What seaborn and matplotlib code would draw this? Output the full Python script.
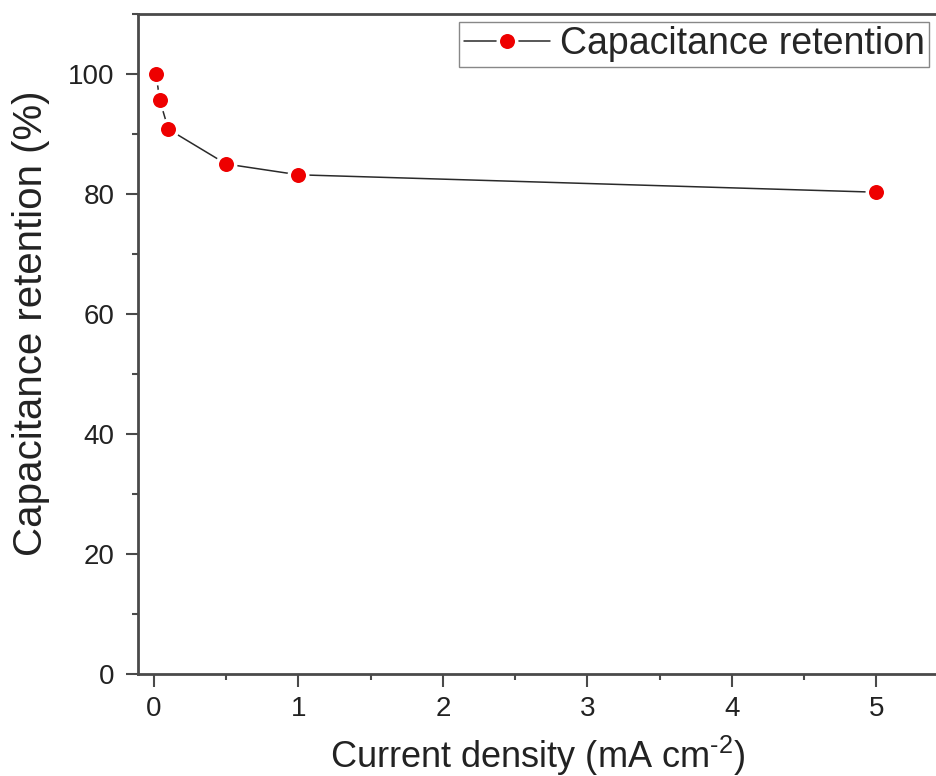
import matplotlib
matplotlib.use("Agg")
import matplotlib.pyplot as plt
import seaborn as sns
import pandas as pd
from matplotlib.ticker import MultipleLocator

current_density = [0.015, 0.04, 0.1, 0.5, 1.0, 5.0]
retention = [100.0, 95.7, 90.8, 85.0, 83.2, 80.3]
series_label = "Capacitance retention"
x_label = r"Current density (mA cm$^{\text{-2}}$)"
y_label = "Capacitance retention (%)"

df = pd.DataFrame({"x": current_density, "y": retention})

sns.set_style("ticks")
plt.rcParams["font.family"] = ["Liberation Sans", "DejaVu Sans"]
plt.rcParams["mathtext.fontset"] = "custom"
plt.rcParams["mathtext.rm"] = "Liberation Sans"
plt.rcParams["mathtext.it"] = "Liberation Sans"
plt.rcParams["mathtext.default"] = "regular"

fig = plt.figure(figsize=(9.37, 7.76), dpi=100)
ax = fig.add_axes([138/937, 1 - 674/776, 1 - 138/937, 660/776])

sns.lineplot(data=df, x="x", y="y", ax=ax, color="#2a2a2a", linewidth=1.1,
             marker="o", markersize=13.3, markerfacecolor="#ee0000",
             markeredgecolor="white", markeredgewidth=2.5, label=series_label)

ax.set_xlim(-0.11, 5.42)
ax.set_ylim(0, 110)
ax.xaxis.set_major_locator(MultipleLocator(1))
ax.xaxis.set_minor_locator(MultipleLocator(0.5))
ax.yaxis.set_major_locator(MultipleLocator(20))
ax.yaxis.set_minor_locator(MultipleLocator(10))

for side in ["left", "bottom", "top"]:
    ax.spines[side].set_color("#4a4a4a")
    ax.spines[side].set_linewidth(2)
ax.spines["right"].set_visible(False)

ax.tick_params(which="major", direction="out", length=9, width=1.5,
               color="#4a4a4a", labelsize=20, labelcolor="#222222")
ax.tick_params(axis="y", which="major", pad=8)
ax.tick_params(axis="x", which="major", pad=7)
ax.tick_params(which="minor", direction="out", length=4.5, width=1.5, color="#4a4a4a")
ax.tick_params(top=False, right=False, which="both")

ax.set_xlabel(x_label, fontsize=26, color="#222222", labelpad=8)
ax.set_ylabel(y_label, fontsize=29, color="#222222")
ax.yaxis.set_label_coords(-0.110, 0.532)

leg = ax.legend(loc="upper right", fontsize=27, frameon=True, fancybox=False,
                handlelength=2.3, handletextpad=0.27, borderpad=0.12,
                borderaxespad=0.2, framealpha=1)
leg.get_frame().set_edgecolor("#888888")
leg.get_frame().set_linewidth(1.0)

fig.savefig("out.png", dpi=100)
